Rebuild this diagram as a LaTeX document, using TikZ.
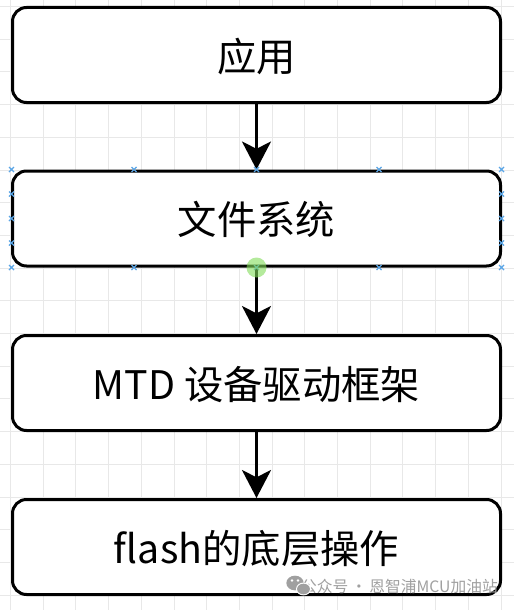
\documentclass[tikz,border=0pt]{standalone}
\usepackage{fontspec}
\setmainfont{Noto Sans CJK SC}
\usetikzlibrary{arrows.meta}
\definecolor{gridc}{RGB}{232,232,232}
\definecolor{handle}{RGB}{90,165,230}
\definecolor{hover}{RGB}{130,220,90}
\definecolor{wm}{RGB}{160,160,160}
\tikzset{
  layerbox/.style={draw=black, line width=2.25pt, rounded corners=10.5pt, fill=white,
    minimum width=366pt, minimum height=71.25pt, inner sep=0pt,
    font=\fontsize{29.5}{31}\selectfont, text height=24.5pt, text depth=0.5pt},
  flow/.style={line width=2.25pt, -{Stealth[length=21pt,width=21.75pt,inset=5.5pt]}},
  gridline/.style={draw=gridc, line width=0.75pt},
  handlemark/.style={draw=handle, line width=0.9pt},
  wmtext/.style={text=wm, font=\fontsize{11.8}{13}\selectfont, inner sep=0pt},
}
\begin{document}
\begin{tikzpicture}[x=0.75pt,y=-0.75pt]
\useasboundingbox (0,0) rectangle (514,610);
\fill[white] (0,0) rectangle (514,610);
% background grid
\foreach \i in {0,...,15} \draw[gridline] ({10.5+32.7*\i},0) -- ({10.5+32.7*\i},610);
\foreach \j in {0,...,18} \draw[gridline] (0,{6.5+32.7*\j}) -- (514,{6.5+32.7*\j});
% boxes
\node[layerbox] (b1) at (256.5,55) {应用};
\node[layerbox] (b2) at (256.5,218.5) {文件系统};
\node[layerbox] (b3) at (256.5,383) {MTD 设备驱动框架};
\node[layerbox] (b4) at (256.5,547) {flash的底层操作};
% connectors
\draw[flow] (b1.south) -- (b2.north);
\draw[flow] (b2.south) -- (b3.north);
\draw[flow] (b3.south) -- (b4.north);
% selection handles of box 2
\foreach \hx in {11.5,134,256.5,379,501.5} {
  \foreach \hy in {169.5,267.5} {
    \draw[handlemark] (\hx-2.5,\hy-2.5) -- (\hx+2.5,\hy+2.5) (\hx-2.5,\hy+2.5) -- (\hx+2.5,\hy-2.5);
  }
}
\foreach \hx in {11.5,501.5} {
  \foreach \hy in {194,218.5,243} {
    \draw[handlemark] (\hx-2.5,\hy-2.5) -- (\hx+2.5,\hy+2.5) (\hx-2.5,\hy+2.5) -- (\hx+2.5,\hy-2.5);
  }
}
\fill[hover, opacity=0.6] (256.5,267.5) circle[radius=7.5pt];
% watermark
\node[wmtext, anchor=base east] (wm) at (498,592) {公众号\,·\,恩智浦MCU加油站};
\fill[wm] (295,583) ellipse[x radius=6.5pt, y radius=5.5pt];
\fill[white] (303.5,589) ellipse[x radius=5.6pt, y radius=4.8pt];
\fill[wm] (303.5,589) ellipse[x radius=4.8pt, y radius=4pt];
\fill[white] (292,580.5) circle[radius=1pt] (298,580.5) circle[radius=1pt];
\end{tikzpicture}
\end{document}
